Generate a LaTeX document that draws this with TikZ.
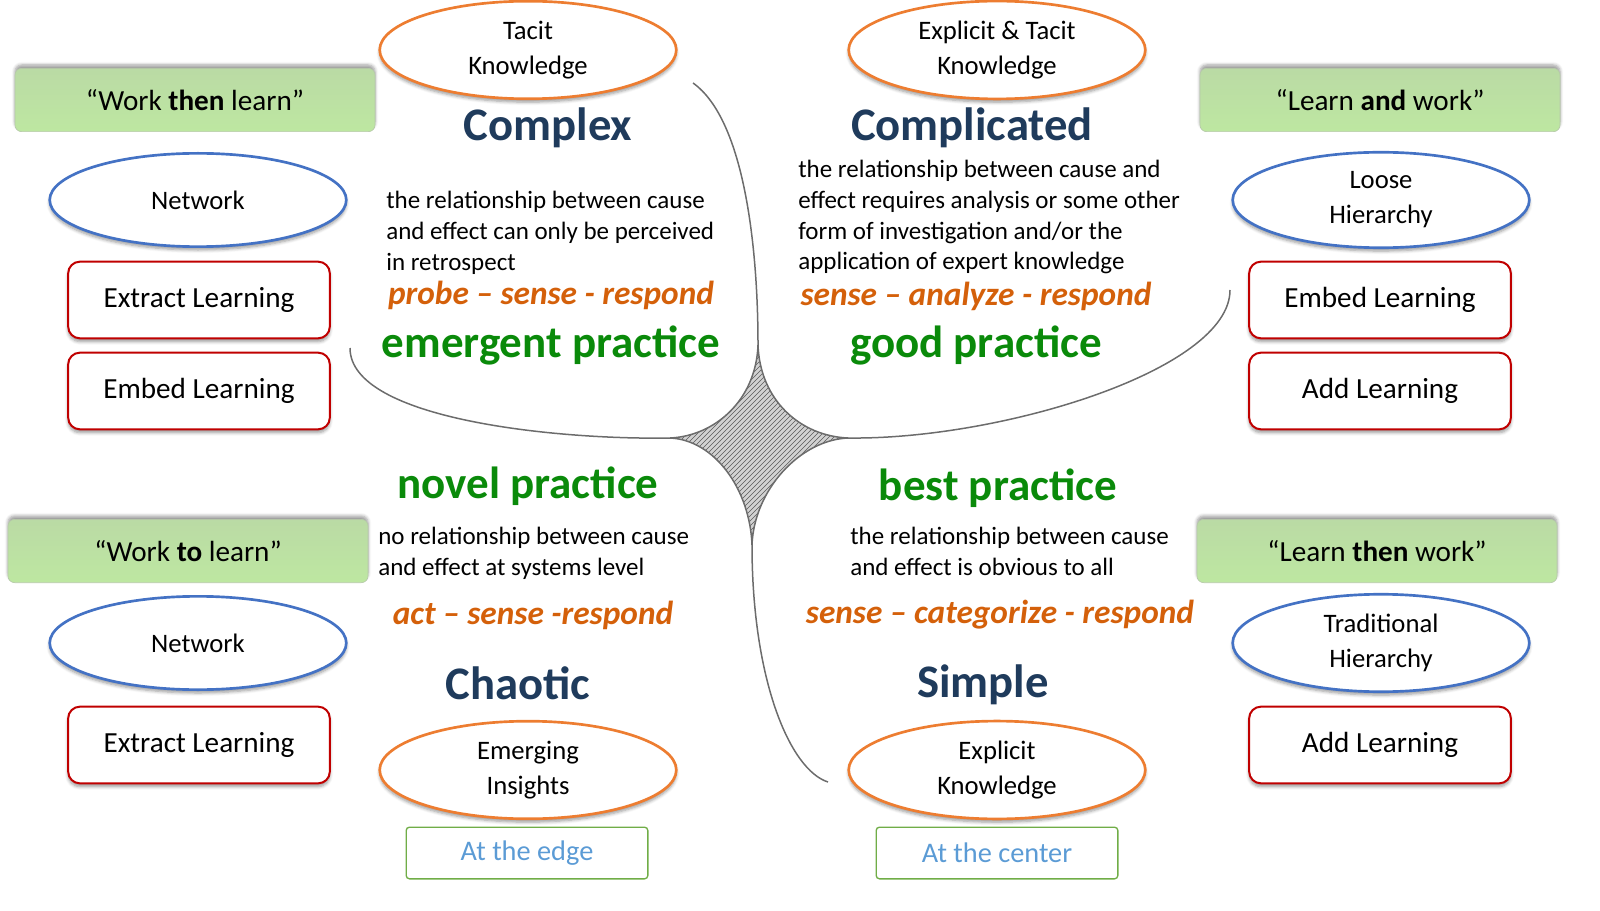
\documentclass[tikz,border=0pt]{standalone}
\usepackage{fontspec}
\setmainfont{Carlito}
\usetikzlibrary{shapes.geometric,shadows.blur,patterns}
\definecolor{navy}{HTML}{1F3B5C}
\definecolor{dgreen}{HTML}{0A8A0A}
\definecolor{orng}{HTML}{D4600A}
\definecolor{oell}{HTML}{ED7D31}
\definecolor{bell}{HTML}{4472C4}
\definecolor{rbox}{HTML}{C00000}
\definecolor{gfill}{HTML}{A9D18E}
\definecolor{gline}{HTML}{70AD47}
\definecolor{lblue}{HTML}{5B9BD5}
\begin{document}
\begin{tikzpicture}[x=0.6pt,y=-0.6pt,
 gbox/.style={draw=gfill!80!black!60,line width=0.4pt,top color=gfill!80,bottom color=gfill!110!black!95,rounded corners=4pt,minimum width=216pt,minimum height=38pt,font=\fontsize{17.5}{20}\selectfont,blur shadow={shadow blur steps=5,shadow xshift=0pt,shadow yshift=2pt}},
 bell/.style={ellipse,draw=bell,line width=1.6pt,fill=white,minimum width=178pt,minimum height=56pt,align=center,font=\fontsize{16}{21}\selectfont,blur shadow={shadow blur steps=5,shadow xshift=0pt,shadow yshift=-2pt}},
 oell/.style={bell,draw=oell},
 rbox/.style={draw=rbox,line width=1.2pt,fill=white,rounded corners=7pt,minimum width=157pt,minimum height=46pt,font=\fontsize{17.5}{20}\selectfont,blur shadow={shadow blur steps=5,shadow xshift=0pt,shadow yshift=-2pt}},
 obox/.style={draw=gline,line width=0.8pt,rounded corners=2pt,minimum width=145pt,minimum height=31pt,text=lblue,font=\fontsize{17}{20}\selectfont},
 ttl/.style={text=navy,font=\fontsize{28}{32}\selectfont\bfseries},
 prac/.style={text=dgreen,font=\fontsize{27}{32}\selectfont\bfseries},
 resp/.style={text=orng,font=\fontsize{20}{24}\selectfont\bfseries\itshape},
 para/.style={anchor=north west,align=left,inner sep=0pt,font=\fontsize{15}{18.4}\selectfont},
 curve/.style={draw=gray!85!black,line width=0.9pt}]
\useasboundingbox (0,0) rectangle (1600,911);
% curves
\coordinate (ct) at (758,345); \coordinate (cb) at (752,545);
\coordinate (cl) at (670,438); \coordinate (cr) at (848,438);
\coordinate (e1) at (693,83); \coordinate (e2) at (350,348);
\coordinate (e3) at (1230,290); \coordinate (e4) at (828,782);
\def\star{(ct) .. controls (760,400) and (800,436) .. (cr) .. controls (800,440) and (754,490) .. (cb) .. controls (750,490) and (715,440) .. (cl) .. controls (715,436) and (756,400) .. (ct) -- cycle}
\fill[gray!35] \star;
\fill[pattern=north east lines,pattern color=gray!70!black] \star;
\draw[curve] (e1) .. controls (745,120) and (758,250) .. (ct) .. controls (760,400) and (800,436) .. (cr) .. controls (1000,440) and (1230,370) .. (e3);
\draw[curve] (e2) .. controls (350,420) and (560,440) .. (cl) .. controls (715,436) and (756,400) .. (ct);
\draw[curve] (cl) .. controls (715,440) and (750,490) .. (cb) .. controls (752,680) and (790,770) .. (e4);
\draw[curve] (cr) .. controls (800,440) and (754,490) .. (cb);
% green boxes
\node[gbox] (g1) at (195,100) {“Work \textbf{then} learn”};
\node[gbox] (g2) at (1380,100) {“Learn \textbf{and} work”};
\node[gbox] (g3) at (188,551) {“Work \textbf{to} learn”};
\node[gbox] (g4) at (1377,551) {“Learn \textbf{then} work”};
% blue ellipses
\node[bell] (b1) at (198,200) {Network};
\node[bell] (b2) at (1381,200) {Loose\\Hierarchy};
\node[bell] (b3) at (198,643) {Network};
\node[bell] (b4) at (1381,643) {Traditional\\Hierarchy};
% red boxes
\node[rbox] (r1) at (199,300) {Extract Learning};
\node[rbox] (r2) at (199,391) {Embed Learning};
\node[rbox] (r3) at (199,745) {Extract Learning};
\node[rbox] (r4) at (1380,300) {Embed Learning};
\node[rbox] (r5) at (1380,391) {Add Learning};
\node[rbox] (r6) at (1380,745) {Add Learning};
% orange ellipses
\node[oell] (o1) at (528,50) {Tacit\\Knowledge};
\node[oell] (o2) at (997,50) {Explicit \& Tacit\\Knowledge};
\node[oell] (o3) at (528,770) {Emerging\\Insights};
\node[oell] (o4) at (997,770) {Explicit\\Knowledge};
% outline boxes
\node[obox] (x1) at (527,853) {At the edge};
\node[obox] (x2) at (997,853) {At the center};
% quadrant texts
\node[ttl] (t1) at (548,128) {Complex};
\node[ttl] (t2) at (972,128) {Complicated};
\node[ttl] (t3) at (518,683) {Chaotic};
\node[ttl] (t4) at (983,685) {Simple};
\node[para] (p1) at (386,191) {the relationship between cause\\and effect can only be perceived\\in retrospect};
\node[para] (p2) at (798,160) {the relationship between cause and\\effect requires analysis or some other\\form of investigation and/or the\\application of expert knowledge};
\node[para] (p3) at (378,527) {no relationship between cause\\and effect at systems level};
\node[para] (p4) at (850,527) {the relationship between cause\\and effect is obvious to all};
\node[resp] (s1) at (551,295) {probe – sense - respond};
\node[resp] (s2) at (976,296) {sense – analyze - respond};
\node[resp] (s3) at (533,615) {act – sense -respond};
\node[resp] (s4) at (1000,615) {sense – categorize - respond};
\node[prac] (k1) at (551,345) {emergent practice};
\node[prac] (k2) at (976,345) {good practice};
\node[prac] (k3) at (528,486) {novel practice};
\node[prac] (k4) at (998,488) {best practice};
\end{tikzpicture}
\end{document}
